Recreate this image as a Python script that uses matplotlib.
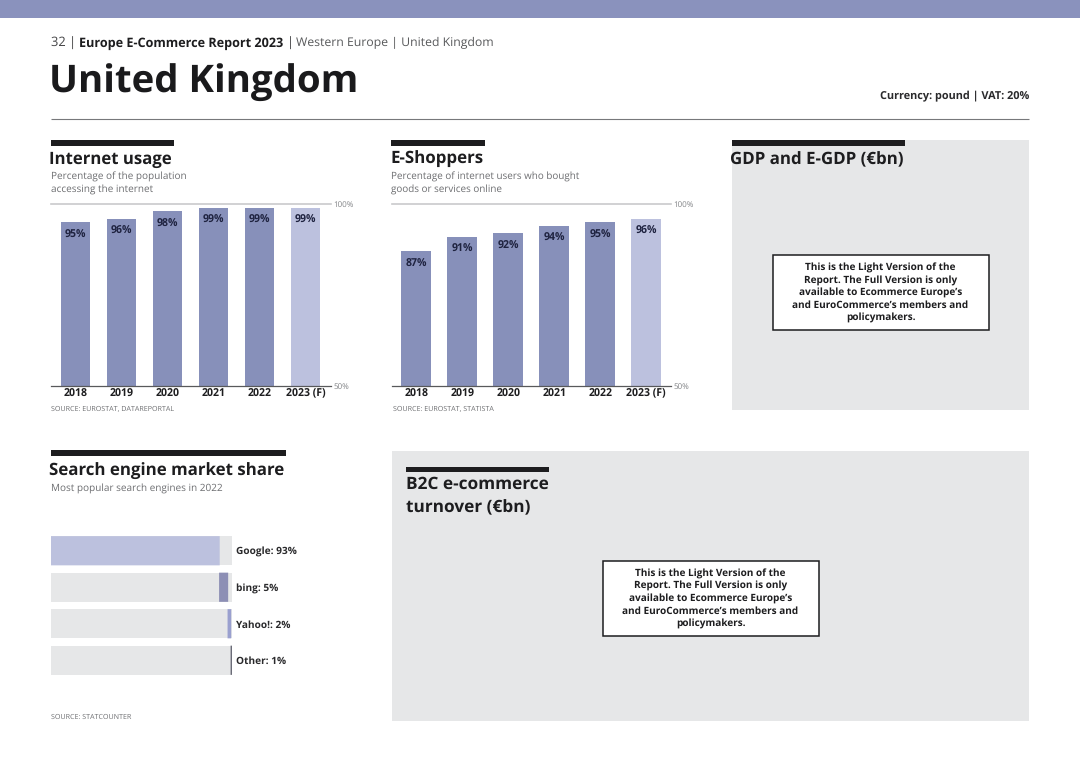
import matplotlib
matplotlib.use("Agg")
import matplotlib.pyplot as plt
from matplotlib.patches import Rectangle

plt.rcParams['font.family'] = ['Open Sans', 'DejaVu Sans']
plt.rcParams['text.hinting'] = 'no_hinting'

W, H = 1080, 764
DARK = '#1d1d1f'
GREY = '#6d6e71'
BAR = '#8790ba'
LIGHT = '#bcc1de'
PANEL = '#e6e7e8'

years = ['2018', '2019', '2020', '2021', '2022', '2023 (F)']
internet_usage = [95, 96, 98, 99, 99, 99]
e_shoppers = [87, 91, 92, 94, 95, 96]
engines = ['Google', 'bing', 'Yahoo!', 'Other']
engine_share = [93, 5, 2, 1]
engine_colors = ['#bcc1de', '#8d8fb5', '#9aa0cf', '#6b6c78']
light_note = ("This is the Light Version of the\nReport. The Full Version is only\n"
              "available to Ecommerce Europe\u2019s\nand EuroCommerce\u2019s members and\npolicymakers.")

fig = plt.figure(figsize=(W / 100, H / 100), dpi=100, facecolor='white')
bg = fig.add_axes([0, 0, 1, 1])
bg.set_xlim(0, W)
bg.set_ylim(H, 0)
bg.axis('off')


def rect(x0, y0, x1, y1, color, **kw):
    bg.add_patch(Rectangle((x0, y0), x1 - x0, y1 - y0, facecolor=color, edgecolor='none', **kw))


def txt(x, y, s, size, color=DARK, weight='normal', ha='left', va='center', **kw):
    bg.text(x, y, s, fontsize=size, color=color, fontweight=weight, ha=ha, va=va, **kw)


def px_axes(x0, y0, x1, y1):
    return fig.add_axes([x0 / W, 1 - y1 / H, (x1 - x0) / W, (y1 - y0) / H])


# page furniture
rect(0, 0, W, 18, '#8a92bd')
txt(51, 43, '32 | ', 9.3, color='#444446')
txt(79, 43, 'Europe E-Commerce Report 2023', 9.1, weight='bold')
txt(286.5, 43, '|', 9.3, color='#444446')
txt(296, 43, 'Western Europe | United Kingdom', 8.8, color='#58595b')
txt(49, 83.5, 'United Kingdom', 27.6, weight='bold', color='#1a1a1c')
txt(1029, 96.5, 'Currency: pound | VAT: 20%', 7.8, weight='bold', ha='right', color='#2a2a2c')
bg.plot([51, 1029], [118.5, 118.5], color='#77787b', lw=0.8, solid_capstyle='butt')

# grey panels
rect(732, 140, 1029, 410, PANEL)
rect(392, 451, 1029, 721, PANEL)

# section headers
rect(51, 140, 174, 146, DARK)
rect(391, 140, 485, 146, DARK)
rect(732, 140, 905, 146, DARK)
rect(51, 450, 286, 456, DARK)
rect(406, 467, 549, 472, DARK)
txt(49, 160, 'Internet usage', 12.1, weight='bold')
txt(390, 160, 'E-Shoppers', 12.2, weight='bold')
txt(730, 160, 'GDP and E-GDP (\u20acbn)', 12.2, weight='bold')
txt(49, 471, 'Search engine market share', 12.2, weight='bold')
txt(406, 496, 'B2C e-commerce\nturnover (\u20acbn)', 12.4, weight='bold', linespacing=1.46)

txt(51, 183.5, 'Percentage of the population\naccessing the internet', 7.2, color=GREY, linespacing=1.48)
txt(391, 183.5, 'Percentage of internet users who bought\ngoods or services online', 7.15, color=GREY, linespacing=1.48)
txt(51, 489, 'Most popular search engines in 2022', 7.2, color=GREY)
txt(51, 408, 'SOURCE: EUROSTAT, DATAREPORTAL', 5.1, color=GREY)
txt(393, 408, 'SOURCE: EUROSTAT, STATISTA', 5.1, color=GREY)
txt(51, 717.5, 'SOURCE: STATCOUNTER', 5.1, color=GREY)


# note boxes
def note(x0, y0, x1, y1):
    bg.add_patch(Rectangle((x0, y0), x1 - x0, y1 - y0, facecolor='white', edgecolor='#1d1d1f', lw=1.1))
    txt((x0 + x1) / 2, (y0 + y1) / 2 + 0.5, light_note, 7.2, weight='bold', ha='center', linespacing=1.33)


note(772.5, 255, 988.5, 330)
note(602.5, 560.5, 818.5, 635.5)


# column charts
def columns(x0, x1, values):
    ax = px_axes(x0, 204, x1, 385.5)
    ax.patch.set_alpha(0)
    colors = [BAR] * (len(values) - 1) + [LIGHT]
    xs = range(len(values))
    ax.bar(xs, values, width=0.645, color=colors, zorder=2)
    ax.set_xlim(-0.535, len(values) - 0.459)
    ax.set_ylim(50, 100)
    for s in ('top', 'left', 'right'):
        ax.spines[s].set_visible(False)
    ax.spines['bottom'].set_color('#58595b')
    ax.spines['bottom'].set_linewidth(0.9)
    ax.axhline(100, color='#c9cacc', lw=1.2, clip_on=False, zorder=1)
    ax.set_xticks(list(xs), years)
    ax.tick_params(axis='x', length=0, pad=2, labelsize=7.6, labelcolor=DARK)
    for lab in ax.get_xticklabels():
        lab.set_fontweight('bold')
    ax.yaxis.tick_right()
    ax.set_yticks([50, 100], ['50%', '100%'])
    ax.tick_params(axis='y', length=0, pad=2, labelsize=5.8, labelcolor='#808285')
    for x, v in zip(xs, values):
        ax.annotate(f'{v}%', (x, v), xytext=(0, -9), textcoords='offset points',
                    ha='center', va='center', fontsize=7.6, fontweight='bold', color='#1f2340')


columns(51, 330.5, internet_usage)
columns(391.5, 671, e_shoppers)

# search engine stacked rows: shares sum past 100, so segments overlap slightly
ax = px_axes(51, 532.5, 232.4, 678.5)
ax.patch.set_alpha(0)
ax.axis('off')
ax.set_xlim(0, 100)
ax.set_ylim(3.5, -0.5)
total = sum(engine_share)
cum = 0
for i, (name, v, c) in enumerate(zip(engines, engine_share, engine_colors)):
    ax.barh(i, 100, height=0.8, color=PANEL, zorder=1)
    left = cum - (total - 100) * i / (len(engines) - 1)
    ax.barh(i, v, left=left, height=0.8, color=c, zorder=2, snap=False)
    cum += v
    ax.annotate(f'{name}: {v}%', (100, i), xytext=(2.6, -1.1), textcoords='offset points',
                va='center', ha='left', fontsize=7.3, fontweight='bold', color='#2a2a2c',
                annotation_clip=False)

fig.savefig('out.png', dpi=100)
